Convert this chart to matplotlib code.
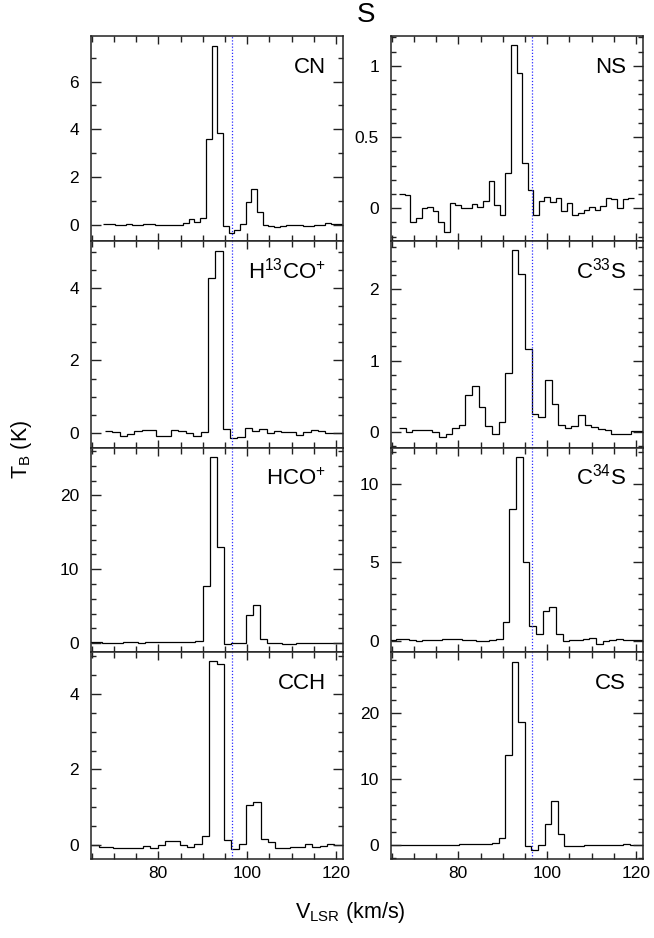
import matplotlib
matplotlib.use('Agg')
import matplotlib.pyplot as plt
import numpy as np
from matplotlib.ticker import MultipleLocator, FuncFormatter

plt.rcParams['font.family'] = ['Liberation Sans', 'DejaVu Sans']
plt.rcParams['mathtext.fontset'] = 'custom'
plt.rcParams['mathtext.rm'] = 'Liberation Sans'
plt.rcParams['mathtext.it'] = 'Liberation Sans'
plt.rcParams['mathtext.bf'] = 'Liberation Sans'

# ---------------- data (channel start velocity, channel width, brightness) -----------
v_sys = 96.6

cn_v0, cn_dv = 67.65, 1.28
cn_T = [0.03, 0.05, 0.02, 0.0, 0.05, 0.02, 0.0, 0.05, 0.05, 0.02, 0.0, 0.02, 0.02, 0.0,
        0.10, 0.25, 0.12, 0.30, 3.6, 7.5, 3.84, -0.03, -0.31, -0.18, 0.05, 0.95, 1.5, 0.56,
        0.0, -0.05, -0.08, -0.03, 0.0, 0.02, 0.0, -0.05, -0.03, -0.01, 0.0, 0.08, 0.07, 0.04]

ns_v0, ns_dv = 66.74, 1.255
ns_T = [0.10, 0.095, -0.10, -0.07, 0.0, 0.01, -0.02, -0.10, -0.17, 0.04,
        0.02, 0.0, 0.0, 0.03, 0.01, 0.05, 0.19, 0.02, -0.05, 0.25,
        1.146, 0.95, 0.32, 0.13, -0.05, 0.05, 0.08, 0.045, 0.07, -0.02,
        0.04, -0.05, -0.03, -0.01, 0.01, -0.01, 0.015, 0.07, 0.065, 0.0,
        0.065, 0.07]

h13_v0, h13_dv = 68.04, 1.65
h13_T = [0.05, 0.02, -0.07, -0.02, 0.05, 0.08, 0.08, -0.07, -0.07, 0.08,
         0.06, 0.0, -0.07, 0.02, 4.28, 5.01, 0.12, -0.13, -0.10, 0.15,
         0.06, 0.10, 0.0, 0.05, 0.02, 0.03, -0.05, 0.02, 0.08, 0.06,
         0.0, 0.0, 0.0]

c33_v0, c33_dv = 66.71, 1.49
c33_T = [0.05, 0.0, 0.03, 0.02, 0.03, 0.0, -0.08, -0.03, 0.05, 0.10,
         0.52, 0.645, 0.35, 0.08, -0.04, 0.13, 0.82, 2.55, 2.22, 1.16,
         0.25, 0.20, 0.73, 0.386, 0.10, 0.05, 0.08, 0.23, 0.10, 0.06,
         0.04, 0.02, -0.03, -0.03, -0.03, 0.01, 0.01]

hco_v0, hco_dv = 64.02, 1.62
hco_T = [0.10, 0.10, 0.0, 0.0, 0.05, 0.10, 0.10, 0.08, 0.10, 0.10, 0.12, 0.12, 0.15,
         0.15, 0.20, 0.35, 7.67, 25.2, 13.05, -0.10, 0.0, 0.05, 3.84, 5.1, 0.5, 0.0,
         -0.05, -0.10, -0.10, -0.05, 0.0, 0.0, 0.05, 0.05, 0.05, 0.05]

c34_v0, c34_dv = 64.44, 1.50
c34_T = [0.05, 0.08, 0.10, 0.05, 0.0, 0.05, 0.03, 0.05, 0.08, 0.08, 0.08, 0.05, 0.05,
         0.0, -0.03, 0.05, 0.10, 1.21, 8.4, 11.7, 5.04, 0.91, 0.43, 1.9, 2.13, 0.45,
         -0.05, 0.05, 0.05, 0.10, 0.15, -0.20, 0.0, 0.05, 0.10, 0.05, 0.05, 0.03, 0.03]

cch_v0, cch_dv = 64.96, 1.655
cch_T = [0.0, -0.05, -0.05, -0.07, -0.07, -0.07, -0.07, -0.03, -0.07, 0.0,
         0.10, 0.10, 0.0, -0.04, 0.02, 0.23, 4.86, 4.80, 0.12, -0.10,
         0.03, 1.07, 1.14, 0.15, 0.07, -0.08, -0.07, -0.05, -0.05, 0.03,
         -0.05, -0.03, 0.04, 0.0, 0.0]

cs_v0, cs_dv = 64.0, 1.475
cs_T = [0.0, 0.0, 0.0, 0.0, 0.0, 0.0, 0.0, 0.0, 0.0, 0.0, 0.0,
        0.1, 0.1, 0.1, 0.1, 0.1, 0.3, 1.12, 13.7, 27.8, 18.7, -0.2, -0.7, 0.0,
        3.15, 6.6, 1.63, -0.2, -0.15, -0.1, -0.05, 0.0, 0.0, 0.0, 0.05, 0.05,
        0.1, 0.05, 0.0, 0.0]

labels = [r'CN', r'NS', r'H$^{13}$CO$^{+}$', r'C$^{33}$S',
          r'HCO$^{+}$', r'C$^{34}$S', r'CCH', r'CS']
spectra = [(cn_v0, cn_dv, cn_T), (ns_v0, ns_dv, ns_T),
           (h13_v0, h13_dv, h13_T), (c33_v0, c33_dv, c33_T),
           (hco_v0, hco_dv, hco_T), (c34_v0, c34_dv, c34_T),
           (cch_v0, cch_dv, cch_T), (cs_v0, cs_dv, cs_T)]
ylims = [(-0.66, 7.9), (-0.23, 1.21), (-0.41, 5.29), (-0.23, 2.68),
         (-1.2, 26.4), (-0.72, 12.28), (-0.37, 5.11), (-2.14, 29.27)]
ymajor = [2, 0.5, 2, 1, 10, 5, 2, 10]
yminor = [1, 0.1, 0.5, 0.2, 2, 1, 0.5, 2]
xlim = (64.8, 121.6)

# ---------------- layout ----------------
W, H = 654, 938
fig = plt.figure(figsize=(W / 100, H / 100), dpi=100)
col_x = [90.7, 390.7]
col_w = 252.6
row_y = [36, 241, 448, 652, 859]

fmt = FuncFormatter(lambda v, p: '%g' % v)

for k in range(8):
    r, c = divmod(k, 2)
    y0, y1 = row_y[r], row_y[r + 1]
    ax = fig.add_axes([col_x[c] / W, 1 - y1 / H, col_w / W, (y1 - y0) / H])
    v0, dv, T = spectra[k]
    edges = v0 + dv * np.arange(len(T) + 1)
    ax.stairs(T, edges, baseline=None, color='black', lw=0.9)
    ax.axvline(v_sys, color='#2b2bff', ls=(0, (1, 1.5)), lw=0.9)
    ax.set_xlim(*xlim)
    ax.set_ylim(*ylims[k])
    ax.xaxis.set_major_locator(MultipleLocator(20))
    ax.xaxis.set_minor_locator(MultipleLocator(5))
    ax.yaxis.set_major_locator(MultipleLocator(ymajor[k]))
    ax.yaxis.set_minor_locator(MultipleLocator(yminor[k]))
    ax.yaxis.set_major_formatter(fmt)
    ax.tick_params(which='both', direction='in', top=True, right=True,
                   width=1.0, color='#222222', labelsize=12.5)
    ax.tick_params(axis='y', which='major', length=7.2, pad=8.5)
    ax.tick_params(axis='y', which='minor', length=3.8)
    ax.tick_params(axis='x', which='major', length=5.5, pad=5)
    ax.tick_params(axis='x', which='minor', length=4.5)
    if r < 3:
        ax.tick_params(axis='x', labelbottom=False)
    for s in ax.spines.values():
        s.set_linewidth(1.1)
        s.set_color('#222222')
    ax.text(0.932, 0.82, labels[k], transform=ax.transAxes, ha='right',
            va='baseline', fontsize=16)

fig.text(366 / W, 1 - 14.5 / H, 'S', ha='center', va='center', fontsize=20)
fig.text(350 / W, 1 - 912 / H, r'V$_{\mathrm{LSR}}$ (km/s)', ha='center',
         va='center', fontsize=15.5)
fig.text(22 / W, 1 - 449 / H, r'T$_{\mathrm{B}}$ (K)', ha='center',
         va='center', rotation=90, fontsize=15.5)

fig.savefig('out.png', dpi=100)
